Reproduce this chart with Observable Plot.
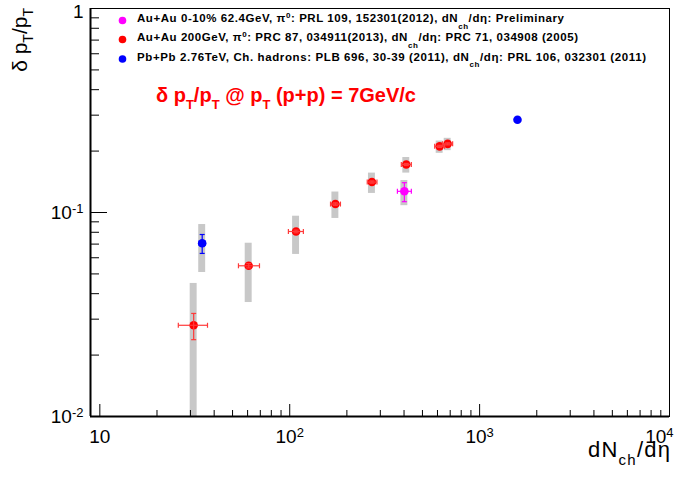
<!DOCTYPE html>
<html><head><meta charset="utf-8">
<script src="https://cdn.jsdelivr.net/npm/d3@7"></script>
<script src="https://cdn.jsdelivr.net/npm/@observablehq/plot@0.6"></script>
<style>
body{margin:0;background:#fff;}
svg{font-family:"Liberation Sans",Arial,Helvetica,sans-serif;}
</style>
</head><body><div id="chart"></div>
<script>
// ---- Data ----
// Au+Au 200GeV, pi0 (red)
const redX     = [31.2, 60.8, 108, 174, 271, 411, 616, 679];
const redY     = [0.028, 0.0548, 0.0807, 0.110, 0.141, 0.172, 0.211, 0.217];
const redYLo   = [0.0238, 0.0535, 0.0795, 0.1085, 0.1393, 0.1700, 0.2085, 0.2145];
const redYHi   = [0.0320, 0.0562, 0.0820, 0.1115, 0.1428, 0.1740, 0.2135, 0.2195];
const redXLo   = [25.9, 53.7, 98.4, 164, 256, 387, 580, 639];
const redXHi   = [36.9, 69.3, 118, 185, 288, 437, 654, 721];
const redSysLo = [0.010, 0.0362, 0.0623, 0.0935, 0.124, 0.156, 0.195, 0.201];
const redSysHi = [0.0449, 0.0707, 0.0959, 0.126, 0.156, 0.186, 0.224, 0.231];
// Au+Au 0-10% 62.4GeV (magenta)
const magX = [401.6], magY = [0.127];
const magYLo = [0.113], magYHi = [0.140];
const magXLo = [369], magXHi = [437];
const magSysLo = [0.108], magSysHi = [0.1435];
// Pb+Pb 2.76TeV (blue)
const blueX = [34.6, 1583], blueY = [0.0707, 0.285];
const blueYLo = [0.063, 0.285], blueYHi = [0.078, 0.285];
const blueXLo = [33.3, 1583], blueXHi = [35.9, 1583];
const blueSysLo = [0.0508, null], blueSysHi = [0.0873, null];

// axes
const xDomain = [8.93, 10000];
const yDomain = [0.01, 1];
const xMajor = [10, 100, 1000, 10000];
const xTickLabels = ["10", "10^2", "10^3", "10^4"];
const xMinor = [20,30,40,50,60,70,80,90,200,300,400,500,600,700,800,900,2000,3000,4000,5000,6000,7000,8000,9000];
const yMajor = [0.01, 0.1, 1];
const yTickLabels = ["10^-2", "10^-1", "1"];
const yMinor = [0.02,0.03,0.04,0.05,0.06,0.07,0.08,0.09,0.2,0.3,0.4,0.5,0.6,0.7,0.8,0.9];

const RED = "#ff0000", MAG = "#ff00ff", BLUE = "#0000ff";
const ERR_RED = "#ff3a3a";

function rows(X, Y, XLo, XHi, YLo, YHi, SLo, SHi, color, errColor) {
  return X.map((x, i) => ({x, y: Y[i], xlo: XLo[i], xhi: XHi[i], ylo: YLo[i], yhi: YHi[i],
    slo: SLo[i], shi: SHi[i], color, errColor}));
}
const all = [
  ...rows(redX, redY, redXLo, redXHi, redYLo, redYHi, redSysLo, redSysHi, RED, ERR_RED),
  ...rows(magX, magY, magXLo, magXHi, magYLo, magYHi, magSysLo, magSysHi, MAG, MAG),
  ...rows(blueX, blueY, blueXLo, blueXHi, blueYLo, blueYHi, blueSysLo, blueSysHi, BLUE, BLUE)
];
const sysRows = all.filter(d => d.slo != null);
const xErrRows = all.filter(d => d.xhi > d.xlo);
const yErrRows = all.filter(d => d.yhi > d.ylo);
const SYSW = 1.043; // half-width factor of the grey systematic boxes

const hcap = {draw(ctx) { ctx.moveTo(-2.5, 0); ctx.lineTo(2.5, 0); }};
const vcap = {draw(ctx) { ctx.moveTo(0, -2.5); ctx.lineTo(0, 2.5); }};

const plot = Plot.plot({
  width: 683, height: 482,
  marginLeft: 90, marginRight: 14, marginTop: 8, marginBottom: 66,
  x: {type: "log", domain: xDomain},
  y: {type: "log", domain: yDomain},
  style: {fontFamily: "Liberation Sans, Arial, sans-serif", background: "white", color: "black"},
  marks: [
    Plot.rect(sysRows, {x1: d => d.x / SYSW, x2: d => d.x * SYSW, y1: "slo", y2: "shi", fill: "#c8c8c8", clip: true}),
    // axes ticks (inward)
    Plot.axisX({ticks: xMinor, tickSize: -6, fill: "none", label: null}),
    Plot.axisX({ticks: xMajor, tickSize: -12, fill: "none", label: null}),
    Plot.axisX({ticks: xMajor, tickSize: 0, tickPadding: 13, fontSize: 19, label: null,
      tickFormat: d => xTickLabels[xMajor.indexOf(d)]}),
    Plot.axisY({ticks: yMinor, tickSize: -9, fill: "none", label: null}),
    Plot.axisY({ticks: yMajor, tickSize: -17, fill: "none", label: null}),
    Plot.axisY({ticks: yMajor, tickSize: 0, tickPadding: 7, fontSize: 19, label: null,
      tickFormat: d => yTickLabels[yMajor.indexOf(d)]}),
    Plot.frame({stroke: "black", strokeWidth: 1}),
    Plot.ruleX([xDomain[0]], {stroke: "black", strokeWidth: 2}),
    Plot.ruleY([yDomain[0]], {stroke: "black", strokeWidth: 2}),
    // points
    Plot.dot(all, {x: "x", y: "y", r: 4.3, fill: d => d.color, stroke: null}),
    // stat errors
    Plot.link(xErrRows, {x1: "xlo", x2: "xhi", y1: "y", y2: "y", stroke: d => d.errColor, strokeWidth: 1.2}),
    Plot.link(yErrRows, {x1: "x", x2: "x", y1: "ylo", y2: "yhi", stroke: d => d.errColor, strokeWidth: 1.2}),
    Plot.dot(xErrRows, {x: "xlo", y: "y", symbol: vcap, stroke: d => d.errColor, fill: "none", strokeWidth: 1.2}),
    Plot.dot(xErrRows, {x: "xhi", y: "y", symbol: vcap, stroke: d => d.errColor, fill: "none", strokeWidth: 1.2}),
    Plot.dot(yErrRows, {x: "x", y: "ylo", symbol: hcap, stroke: d => d.errColor, fill: "none", strokeWidth: 1.2}),
    Plot.dot(yErrRows, {x: "x", y: "yhi", symbol: hcap, stroke: d => d.errColor, fill: "none", strokeWidth: 1.2})
  ]
});
document.getElementById("chart").appendChild(plot);

const svg = d3.select(plot);

// superscript tick labels
svg.selectAll('g[aria-label="x-axis tick label"] text, g[aria-label="y-axis tick label"] text').each(function() {
  const t = d3.select(this);
  const s = t.text();
  if (s.includes("^")) {
    const [b, e] = s.split("^");
    t.text(null);
    t.append("tspan").text(b);
    t.append("tspan").attr("dy", "-0.45em").attr("font-size", 13).text(e);
  }
});
const xl = svg.selectAll('g[aria-label="x-axis tick label"] text').nodes();
if (xl.length) {
  d3.select(xl[xl.length - 1]).attr("text-anchor", "end").attr("dx", 4);
}
// nudge the top y label ("1") down inside the window, as in the reference
svg.selectAll('g[aria-label="y-axis tick label"] text').each(function() {
  if (this.textContent === "1") {
    const g = d3.select(this.parentNode).append("g").attr("transform", "translate(0,3.5)");
    g.node().appendChild(this);
  }
});

// rich text helper
function rich(sel, parts, base) {
  let cur = 0;
  for (const p of parts) {
    const ts = sel.append("tspan");
    if (typeof p === "string") {
      ts.attr("font-size", base).text(p);
      if (cur !== 0) ts.attr("dy", -cur);
      cur = 0;
    } else {
      const off = p.sub != null ? p.sub : -p.sup;
      ts.attr("font-size", p.size).attr("dy", off - cur).text(p.t);
      cur = off;
    }
  }
}

// legend
const legend = [
  {color: MAG, len: 427, parts: ["Au+Au 0-10% 62.4GeV, π", {t: "0", sup: 4.5, size: 8}, ": PRL 109, 152301(2012), dN", {t: "ch", sub: 6.5, size: 8}, "/dη: Preliminary"]},
  {color: RED, len: 441, parts: ["Au+Au 200GeV, π", {t: "0", sup: 4.5, size: 8}, ": PRC 87, 034911(2013), dN", {t: "ch", sub: 6.5, size: 8}, "/dη: PRC 71, 034908 (2005)"]},
  {color: BLUE, len: 509, parts: ["Pb+Pb 2.76TeV, Ch. hadrons: PLB 696, 30-39 (2011), dN", {t: "ch", sub: 6.5, size: 8}, "/dη: PRL 106, 032301 (2011)"]}
];
const lg = svg.append("g").attr("class", "legend");
const rowY = [22, 41, 60.5];
const mkY = [20.5, 39.5, 59];
legend.forEach((l, i) => {
  lg.append("circle").attr("cx", 122.5).attr("cy", mkY[i]).attr("r", 3.8).attr("fill", l.color);
  const t = lg.append("text").attr("x", 137).attr("y", rowY[i]).attr("text-anchor", "start")
    .attr("font-weight", "bold").attr("fill", "black")
    .attr("textLength", l.len).attr("lengthAdjust", "spacing");
  rich(t, l.parts, 11.5);
});

// annotation
const ann = svg.append("text").attr("x", 156).attr("y", 101.5).attr("text-anchor", "start")
  .attr("fill", RED).attr("font-weight", "bold");
rich(ann, ["δ p", {t: "T", sub: 7, size: 13}, "/p", {t: "T", sub: 7, size: 13}, " @ p", {t: "T", sub: 7, size: 13}, " (p+p) = 7GeV/c"], 20);

// axis titles
const xt = svg.append("text").attr("x", 670).attr("y", 457).attr("text-anchor", "end").attr("fill", "black")
  .attr("textLength", 82).attr("lengthAdjust", "spacing");
rich(xt, ["dN", {t: "ch", sub: 8, size: 15}, "/dη"], 22);
const yt = svg.append("text").attr("transform", "translate(27,8) rotate(-90)").attr("text-anchor", "end").attr("fill", "black");
rich(yt, ["δ p", {t: "T", sub: 6, size: 14}, "/p", {t: "T", sub: 6, size: 14}], 21);
</script>
</body></html>
